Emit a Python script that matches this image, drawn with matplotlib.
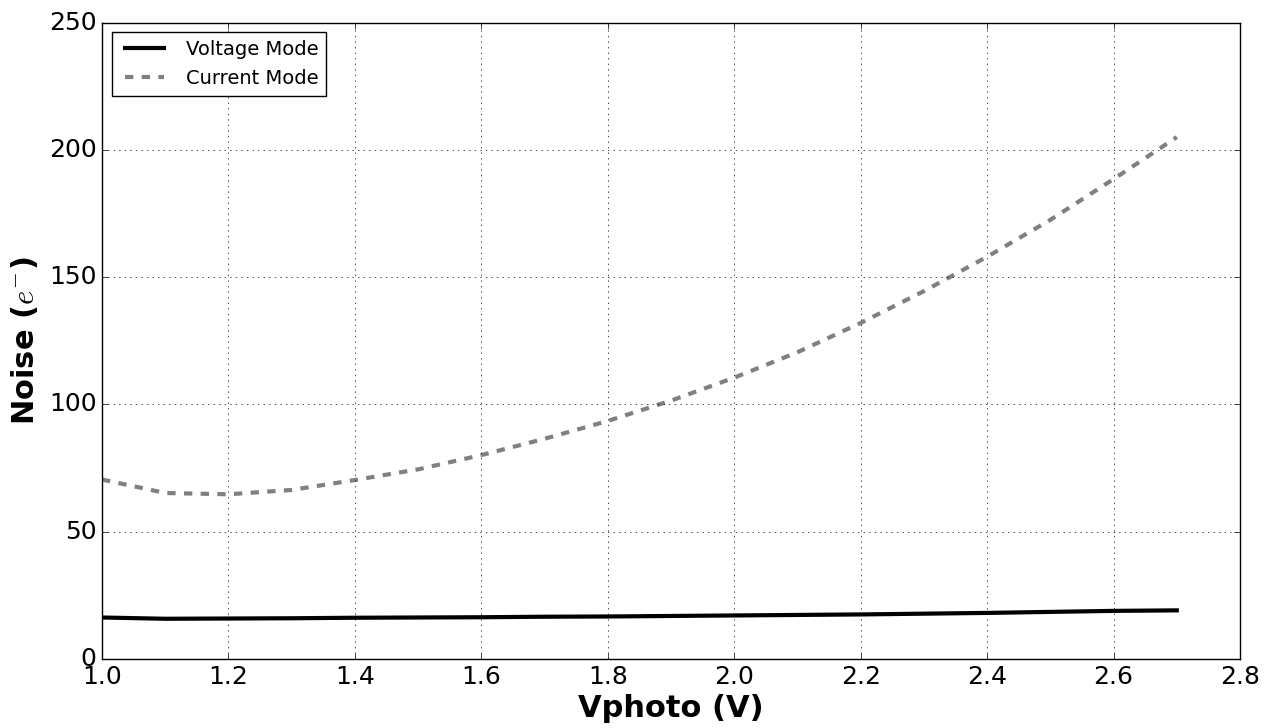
import matplotlib
matplotlib.use("Agg")
import matplotlib.pyplot as plt
import numpy as np

plt.style.use("classic")

# photodiode bias sweep
vphoto = [1.0, 1.1, 1.2, 1.3, 1.4, 1.5, 1.6, 1.7, 1.8,
          1.9, 2.0, 2.1, 2.2, 2.3, 2.4, 2.5, 2.6, 2.7]
noise_voltage = [16.3, 15.8, 15.9, 16.0, 16.2, 16.3, 16.4, 16.6, 16.7,
                 16.9, 17.1, 17.3, 17.5, 17.8, 18.1, 18.5, 18.9, 19.1]
noise_current = [70.5, 65.2, 64.7, 66.4, 70.3, 74.5, 80.1, 86.5, 93.5,
                 101.5, 110.5, 120.5, 132.0, 144.5, 158.0, 172.5, 188.5, 205.0]

fig = plt.figure(figsize=(12.71, 7.28), dpi=100, facecolor="white")
ax = fig.add_axes([0.0803, 0.0948, 0.8953, 0.8742])

ax.plot(vphoto, noise_voltage, color="black", lw=3, label="Voltage Mode")
ax.plot(vphoto, noise_current, color="0.5", lw=3, ls="--", label="Current Mode")

ax.set_xlim(1.0, 2.8)
ax.set_ylim(0, 250)
ax.set_xticks(np.arange(1.0, 2.81, 0.2))
ax.grid(True)
ax.tick_params(labelsize=18)

ax.set_xlabel("Vphoto (V)", fontsize=22, fontweight="bold", labelpad=4)
ax.set_ylabel(r"Noise ($e^{-}$)", fontsize=22, fontweight="bold", labelpad=6)

ax.legend(loc="upper left", fontsize=14, handlelength=2.6)

fig.savefig("out.png", dpi=100, facecolor="white")
